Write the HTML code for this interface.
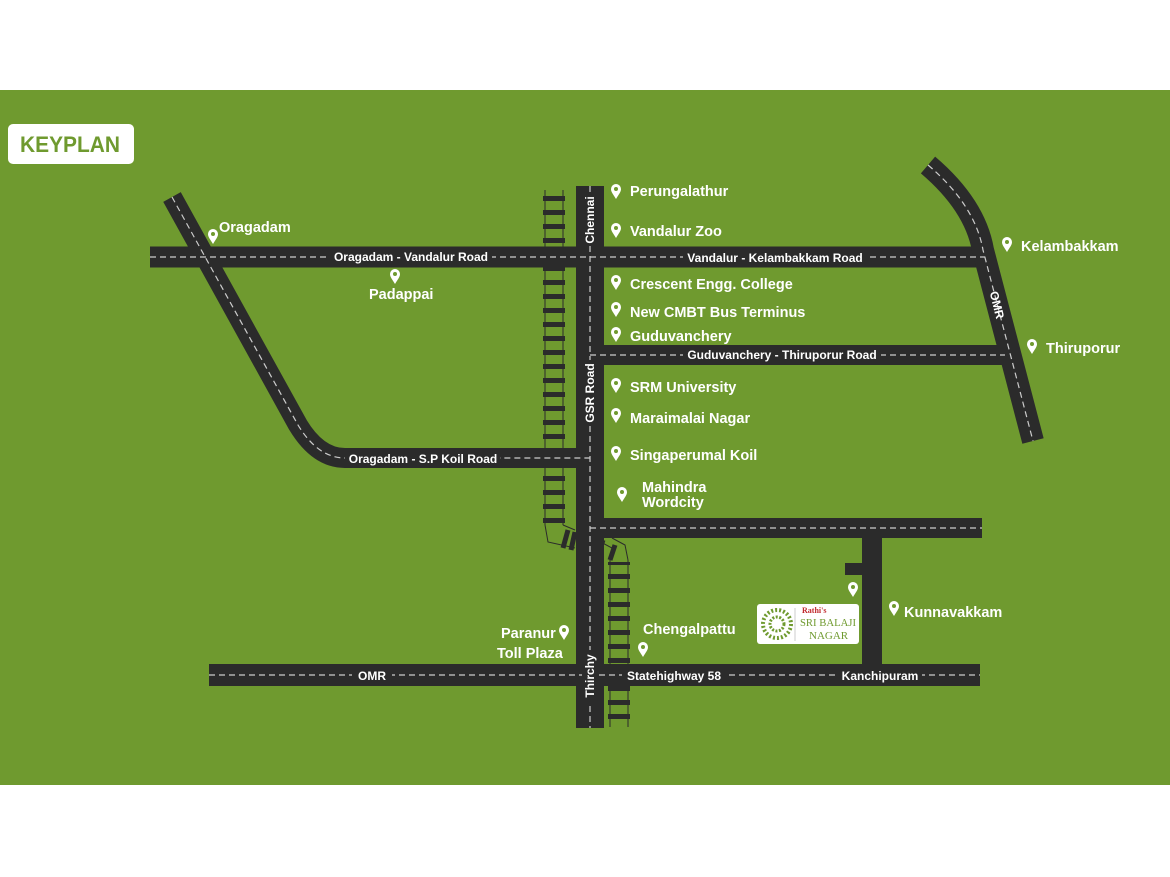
<!DOCTYPE html>
<html><head><meta charset="utf-8"><style>
body{margin:0;background:#fff}
svg{display:block}
text{font-family:"Liberation Sans",sans-serif;font-weight:bold;fill:#fff}
.l{font-size:14.5px}
.r{font-size:12px}
</style></head><body>
<svg width="1170" height="877" viewBox="0 0 1170 877" xmlns="http://www.w3.org/2000/svg">
<defs>
<g id="pin"><path d="M0 0 C-3 -5 -5 -7 -5 -10 A5 5 0 1 1 5 -10 C5 -7 3 -5 0 0Z" fill="#fff"/><circle cx="0" cy="-10" r="2" fill="#6f9a2f"/></g>
<pattern id="ties" width="18" height="14" patternUnits="userSpaceOnUse"><rect x="0" y="0" width="18" height="5" fill="#2b2b2b"/></pattern>
</defs>
<rect x="0" y="90" width="1170" height="695" fill="#6f9a2f"/>
<rect x="8" y="124" width="126" height="40" rx="5" fill="#fff"/>
<text x="70" y="152" text-anchor="middle" textLength="100" lengthAdjust="spacingAndGlyphs" style="font-size:22px;fill:#6f9a2f">KEYPLAN</text>

<!-- railways -->
<g stroke="#2b2b2b" stroke-width="1" fill="none">
<line x1="545" y1="190" x2="545" y2="525"/><line x1="563" y1="190" x2="563" y2="525"/>
<line x1="610" y1="560" x2="610" y2="727"/><line x1="628" y1="560" x2="628" y2="727"/>
<path d="M545 525 L548 542 L575 548 M563 525 L575 530"/>
<path d="M610 560 L612 548 L597 540 M628 560 L625 545 L612 538"/>
</g>
<rect x="543" y="192" width="22" height="334" fill="url(#ties)"/>
<rect x="608" y="562" width="22" height="166" fill="url(#ties)"/>
<g stroke="#2b2b2b" stroke-width="5"><line x1="568" y1="530" x2="563" y2="548"/><line x1="575" y1="532" x2="571" y2="550"/><line x1="603" y1="540" x2="598" y2="555"/><line x1="615" y1="545" x2="610" y2="560"/></g>

<!-- roads -->
<g fill="none" stroke="#2b2b2b" stroke-linejoin="round">
<path d="M172 197 L298 425 Q318 458 345 458 L590 458" stroke-width="20"/>
<path d="M150 257 L985 257" stroke-width="21"/>
<path d="M928 165 Q975 205 983 250 L1033 441" stroke-width="22"/>
<path d="M590 355 L1005 355" stroke-width="20"/>
<path d="M590 528 L982 528" stroke-width="20"/>
<path d="M872 538 L872 665" stroke-width="20"/>
<path d="M845 569 L872 569" stroke-width="12"/>
<path d="M209 675 L980 675" stroke-width="22"/>
<path d="M590 186 L590 728" stroke-width="28"/>
</g>
<g fill="none" stroke="#ccc" stroke-width="1.2" stroke-dasharray="6,4">
<path d="M172 197 L298 425 Q318 458 345 458 L590 458"/>
<path d="M150 257 L985 257"/>
<path d="M928 165 Q975 205 983 250 L1033 441"/>
<path d="M590 355 L1005 355"/>
<path d="M590 528 L982 528"/>
<path d="M209 675 L980 675"/>
<path d="M590 186 L590 728"/>
</g>

<!-- road labels -->
<g class="r">
<rect x="330" y="249" width="162" height="16" fill="#2b2b2b"/><text x="411" y="261" class="r" text-anchor="middle">Oragadam - Vandalur Road</text>
<rect x="683" y="249" width="183" height="16" fill="#2b2b2b"/><text x="775" y="262" class="r" text-anchor="middle">Vandalur - Kelambakkam Road</text>
<rect x="683" y="347" width="198" height="16" fill="#2b2b2b"/><text x="782" y="359" class="r" text-anchor="middle">Guduvanchery - Thiruporur Road</text>
<rect x="345" y="450" width="155" height="16" fill="#2b2b2b"/><text x="423" y="463" class="r" text-anchor="middle">Oragadam - S.P Koil Road</text>
<rect x="352" y="667" width="40" height="16" fill="#2b2b2b"/><text x="372" y="680" class="r" text-anchor="middle">OMR</text>
<rect x="622" y="667" width="104" height="16" fill="#2b2b2b"/><text x="674" y="680" class="r" text-anchor="middle">Statehighway 58</text>
<rect x="838" y="667" width="84" height="16" fill="#2b2b2b"/><text x="880" y="680" class="r" text-anchor="middle">Kanchipuram</text>
</g>
<rect x="582" y="194" width="16" height="52" fill="#2b2b2b"/>
<text class="r" transform="translate(594,220) rotate(-90)" text-anchor="middle">Chennai</text>
<rect x="582" y="360" width="16" height="66" fill="#2b2b2b"/>
<text class="r" transform="translate(594,393) rotate(-90)" text-anchor="middle">GSR Road</text>
<rect x="582" y="650" width="16" height="52" fill="#2b2b2b"/>
<text class="r" transform="translate(594,676) rotate(-90)" text-anchor="middle">Thirchy</text>
<text class="r" transform="translate(993,306) rotate(76)" text-anchor="middle">OMR</text>

<!-- places -->
<g>
<use href="#pin" x="616" y="199"/><text class="l" x="630" y="196">Perungalathur</text>
<use href="#pin" x="616" y="238"/><text class="l" x="630" y="236">Vandalur Zoo</text>
<use href="#pin" x="616" y="290"/><text class="l" x="630" y="289">Crescent Engg. College</text>
<use href="#pin" x="616" y="317"/><text class="l" x="630" y="317">New CMBT Bus Terminus</text>
<use href="#pin" x="616" y="342"/><text class="l" x="630" y="341">Guduvanchery</text>
<use href="#pin" x="616" y="393"/><text class="l" x="630" y="392">SRM University</text>
<use href="#pin" x="616" y="423"/><text class="l" x="630" y="423">Maraimalai Nagar</text>
<use href="#pin" x="616" y="461"/><text class="l" x="630" y="460">Singaperumal Koil</text>
<use href="#pin" x="622" y="502"/><text class="l" x="642" y="492">Mahindra</text><text class="l" x="642" y="507">Wordcity</text>
<use href="#pin" x="1007" y="252"/><text class="l" x="1021" y="251">Kelambakkam</text>
<use href="#pin" x="1032" y="354"/><text class="l" x="1046" y="353">Thiruporur</text>
<use href="#pin" x="213" y="244"/><text class="l" x="219" y="232">Oragadam</text>
<use href="#pin" x="395" y="284"/><text class="l" x="369" y="299">Padappai</text>
<use href="#pin" x="564" y="640"/><text class="l" x="501" y="638">Paranur</text><text class="l" x="497" y="658">Toll Plaza</text>
<use href="#pin" x="643" y="657"/><text class="l" x="643" y="634">Chengalpattu</text>
<use href="#pin" x="894" y="616"/><text class="l" x="904" y="617">Kunnavakkam</text>
<use href="#pin" x="853" y="597"/>
</g>

<!-- logo -->
<rect x="757" y="604" width="102" height="40" rx="3" fill="#fff"/>
<circle cx="777" cy="624" r="14" fill="none" stroke="#6f9a2f" stroke-width="4" stroke-dasharray="2,2"/>
<circle cx="777" cy="624" r="7" fill="none" stroke="#6f9a2f" stroke-width="3" stroke-dasharray="2,1.5"/>
<line x1="795" y1="608" x2="795" y2="641" stroke="#ccc"/>
<text x="802" y="613" style="font-family:'Liberation Serif',serif;font-size:8px;fill:#c0282d">Rathi's</text>
<text x="800" y="626" textLength="56" lengthAdjust="spacingAndGlyphs" style="font-family:'Liberation Serif',serif;font-size:11px;font-weight:normal;fill:#6f9a2f">SRI BALAJI</text>
<text x="809" y="639" style="font-family:'Liberation Serif',serif;font-size:11px;font-weight:normal;fill:#6f9a2f">NAGAR</text>
</svg>
</body></html>
